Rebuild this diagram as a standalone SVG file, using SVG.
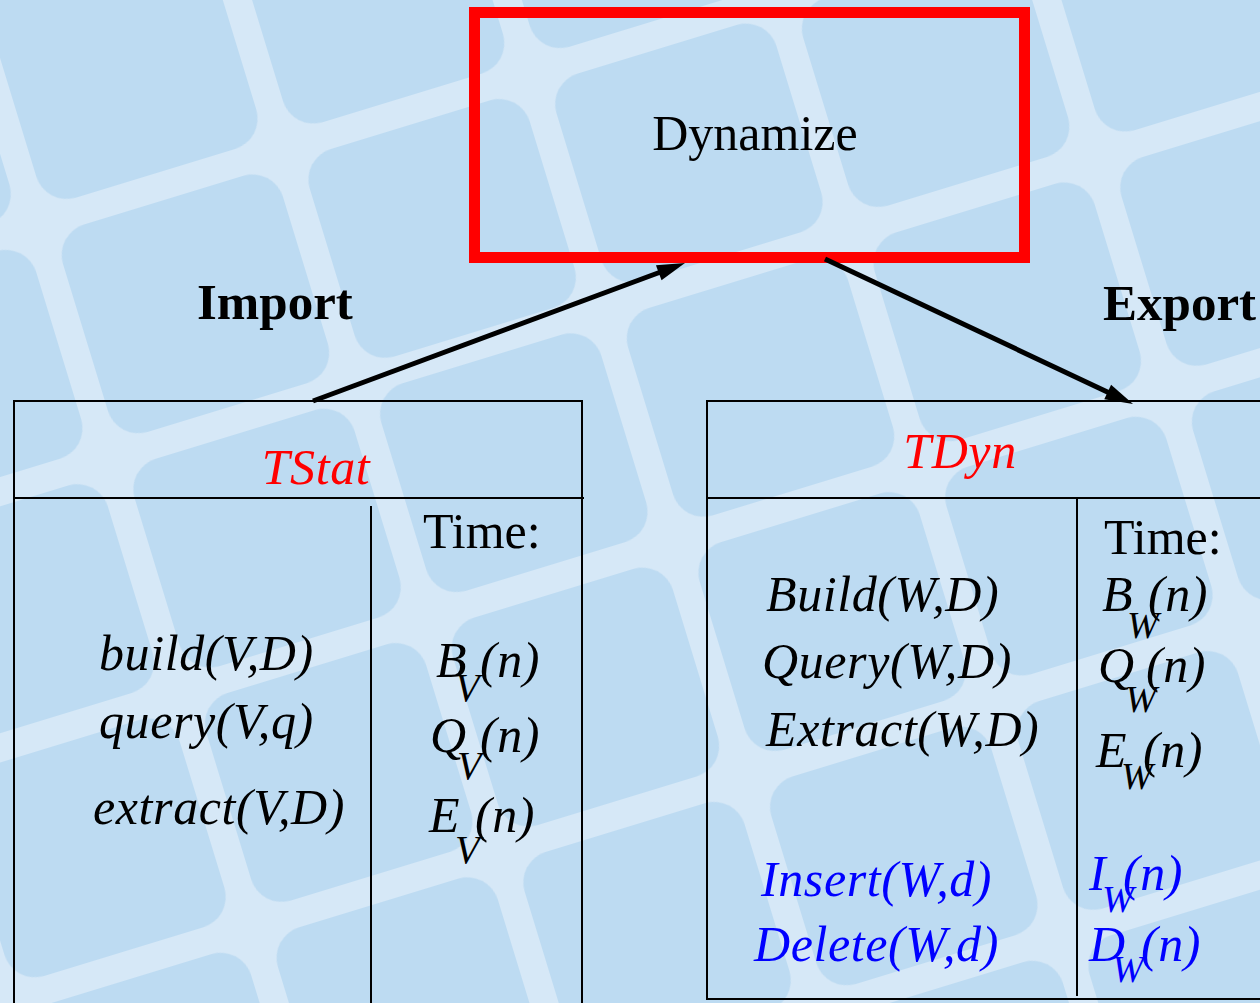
<svg xmlns="http://www.w3.org/2000/svg" width="1260" height="1003" viewBox="0 0 1260 1003">
  <defs>
    <!-- tilted tile backdrop: rounded tiles separated by light grout lines -->
    <pattern id="tiles" patternUnits="userSpaceOnUse" width="258" height="245" patternTransform="translate(283 149) rotate(-17)">
      <rect width="258" height="245" fill="#d6e8f7"/>
      <rect x="14" y="14" width="230" height="217" rx="32" fill="#bddbf2"/>
    </pattern>
    <marker id="arrow" markerUnits="userSpaceOnUse" viewBox="-2 -8 30 16" markerWidth="30" markerHeight="16" refX="0" refY="0" orient="auto" overflow="visible">
      <path d="M-2,-8 L26,0 L-2,8 Z" fill="#000"/>
    </marker>
  </defs>
  <style>
    text { font-family: "Liberation Serif", "Times New Roman", serif; fill: #000; }
    .rm { font-size: 50px; }
    .it { font-size: 50px; font-style: italic; letter-spacing: 0.6px; }
    .lbl { font-size: 51px; font-weight: bold; }
    .subV { font-size: 40px; font-style: italic; }
    .subW { font-size: 38px; font-style: italic; }
    .red { fill: #ff0000; }
    .blue { fill: #0000ff; }
    .frame { fill: none; stroke: #000; stroke-width: 2; }
    .conn { fill: none; stroke: #000; stroke-width: 5; marker-end: url(#arrow); }
  </style>

  <rect width="1260" height="1003" fill="url(#tiles)"/>

  <g id="dynamize">
    <rect x="474.5" y="12.5" width="550" height="245" fill="none" stroke="#ff0000" stroke-width="11"/>
    <text class="rm" x="755" y="150" text-anchor="middle">Dynamize</text>
  </g>

  <g id="connectors">
    <path class="conn" d="M313,401 L660.6,272"/>
    <path class="conn" d="M825,259 L1109.5,392.9"/>
    <text class="lbl" x="197" y="319">Import</text>
    <text class="lbl" x="1103" y="320">Export</text>
  </g>

  <g id="tstat">
    <path class="frame" d="M14,1003 V401 H582 V1003 M14,498 H584 M371,506 V1003"/>
    <text class="it red" x="316" y="484" text-anchor="middle">TStat</text>
    <text class="rm" x="423" y="548">Time:</text>
    <text class="it" x="99" y="670">build(V,D)</text>
    <text class="it" x="99" y="738">query(V,q)</text>
    <text class="it" x="93" y="824">extract(V,D)</text>
    <text class="it" x="436" y="677">B</text>
    <text class="subV" x="455" y="701">V</text>
    <text class="it" x="480" y="677">(n)</text>
    <text class="it" x="430" y="752">Q</text>
    <text class="subV" x="457" y="779">V</text>
    <text class="it" x="480" y="752">(n)</text>
    <text class="it" x="429" y="832">E</text>
    <text class="subV" x="455" y="863">V</text>
    <text class="it" x="475" y="832">(n)</text>
  </g>

  <g id="tdyn">
    <path class="frame" d="M1260,401 H707 V999 H1260 M707,498 H1260 M1077,499 V996"/>
    <text class="it red" x="960" y="468" text-anchor="middle">TDyn</text>
    <text class="rm" x="1104" y="554">Time:</text>
    <text class="it" x="766" y="611">Build(W,D)</text>
    <text class="it" x="762" y="678">Query(W,D)</text>
    <text class="it" x="766" y="746">Extract(W,D)</text>
    <text class="it blue" x="761" y="896">Insert(W,d)</text>
    <text class="it blue" x="754" y="961">Delete(W,d)</text>
    <text class="it" x="1102" y="611">B</text>
    <text class="subW" x="1127" y="638">W</text>
    <text class="it" x="1148" y="611">(n)</text>
    <text class="it" x="1098" y="682">Q</text>
    <text class="subW" x="1125" y="712">W</text>
    <text class="it" x="1146" y="682">(n)</text>
    <text class="it" x="1096" y="767">E</text>
    <text class="subW" x="1121" y="789">W</text>
    <text class="it" x="1143" y="767">(n)</text>
    <text class="it blue" x="1089" y="890">I</text>
    <text class="subW blue" x="1102" y="912">W</text>
    <text class="it blue" x="1123" y="890">(n)</text>
    <text class="it blue" x="1089" y="961">D</text>
    <text class="subW blue" x="1112" y="982">W</text>
    <text class="it blue" x="1141" y="961">(n)</text>
  </g>
</svg>
